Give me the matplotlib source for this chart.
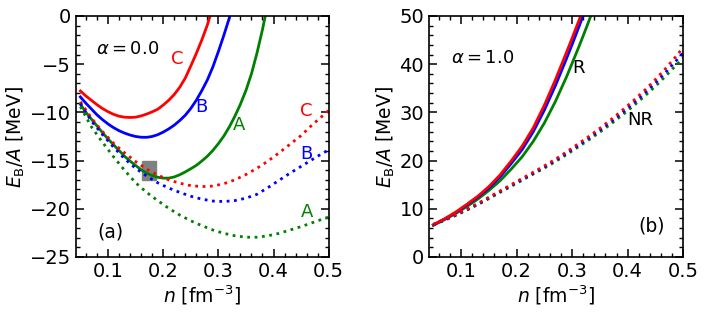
import matplotlib
matplotlib.use("Agg")
import matplotlib.pyplot as plt
from matplotlib.patches import Rectangle
from matplotlib.ticker import MultipleLocator

# ---- panel (a): alpha = 0.0 ----
n_dot = [0.05, 0.07, 0.09, 0.11, 0.13, 0.15, 0.17, 0.19, 0.21, 0.23, 0.25, 0.27,
         0.29, 0.31, 0.33, 0.35, 0.37, 0.39, 0.41, 0.43, 0.45, 0.47, 0.49, 0.50]

nC_sol = [0.05, 0.06, 0.07, 0.08, 0.09, 0.10, 0.11, 0.12, 0.13, 0.14, 0.15, 0.16, 0.17,
          0.18, 0.19, 0.20, 0.21, 0.22, 0.23, 0.24, 0.25, 0.26, 0.27, 0.28, 0.285]
eC_sol = [-7.78, -8.3, -8.75, -9.2, -9.6, -9.93, -10.2, -10.4, -10.5, -10.53, -10.5,
          -10.37, -10.18, -9.95, -9.68, -9.25, -8.75, -8.15, -7.4, -6.45, -5.2, -3.9,
          -2.5, -0.95, 0.0]

nB_sol = [0.05, 0.06, 0.07, 0.08, 0.09, 0.10, 0.11, 0.12, 0.13, 0.14, 0.15, 0.16, 0.17,
          0.18, 0.19, 0.20, 0.21, 0.22, 0.23, 0.24, 0.25, 0.26, 0.27, 0.28, 0.29, 0.30,
          0.31, 0.321]
eB_sol = [-8.4, -9.05, -9.65, -10.25, -10.75, -11.2, -11.58, -11.9, -12.15, -12.35, -12.5,
          -12.58, -12.59, -12.5, -12.32, -12.05, -11.72, -11.33, -10.85, -10.3, -9.6,
          -8.75, -7.75, -6.65, -5.3, -3.7, -2.0, 0.0]

nA_sol = [0.05, 0.06, 0.07, 0.08, 0.09, 0.10, 0.11, 0.12, 0.13, 0.14, 0.15, 0.16, 0.17,
          0.18, 0.19, 0.20, 0.21, 0.22, 0.23, 0.24, 0.25, 0.26, 0.27, 0.28, 0.29, 0.30,
          0.31, 0.32, 0.33, 0.34, 0.35, 0.36, 0.37, 0.38, 0.385]
eA_sol = [-9.15, -10.0, -10.7, -11.4, -12.1, -12.75, -13.35, -13.95, -14.55, -15.05, -15.5,
          -15.95, -16.3, -16.55, -16.73, -16.82, -16.82, -16.7, -16.47, -16.18, -15.85,
          -15.5, -15.05, -14.55, -13.95, -13.25, -12.45, -11.5, -10.4, -9.15, -7.73,
          -6.0, -3.85, -1.4, 0.0]

eC_dot = [-8.9, -10.6, -12.0, -13.2, -14.2, -15.1, -15.9, -16.5, -17.0, -17.35, -17.6, -17.7,
          -17.65, -17.4, -17.0, -16.45, -15.8, -15.05, -14.2, -13.3, -12.4, -11.3, -10.3, -9.8]
eB_dot = [-9.1, -10.9, -12.3, -13.6, -14.8, -15.8, -16.6, -17.3, -17.85, -18.3, -18.7, -19.0,
          -19.2, -19.25, -19.15, -18.9, -18.5, -17.8, -17.05, -16.3, -15.6, -14.9, -14.2, -13.9]
eA_dot = [-9.4, -11.5, -13.1, -14.6, -16.0, -17.3, -18.3, -19.15, -19.95, -20.65, -21.25,
          -21.75, -22.2, -22.55, -22.8, -22.95, -22.95, -22.8, -22.55, -22.2, -21.85, -21.45,
          -21.05, -20.85]

# ---- panel (b): alpha = 1.0 ----
nR = [0.05, 0.07, 0.09, 0.11, 0.13, 0.15, 0.17, 0.19, 0.21, 0.23, 0.25, 0.27, 0.29, 0.30,
      0.31, 0.32, 0.33, 0.34]
eR_C = [6.7, 7.9, 9.3, 10.9, 12.6, 14.6, 17.0, 19.9, 23.0, 26.8, 31.5, 36.8, 42.5, 45.4,
        48.4, 51.4, 54.4, 57.4]
eR_B = [6.65, 7.85, 9.2, 10.75, 12.4, 14.3, 16.6, 19.35, 22.3, 26.0, 30.5, 35.6, 41.2, 44.1,
        47.1, 50.1, 53.1, 56.1]
eR_A = [6.6, 7.75, 9.0, 10.45, 12.0, 13.8, 15.8, 18.2, 20.8, 24.0, 27.8, 32.3, 37.4, 40.2,
        43.0, 45.9, 48.9, 52.0]

eNR_C = [6.8, 7.8, 8.8, 9.9, 11.1, 12.4, 13.7, 15.0, 16.3, 17.6, 18.9, 20.3, 21.8, 23.4,
         25.0, 26.7, 28.5, 30.4, 32.4, 34.5, 36.8, 39.3, 42.0, 43.5]
eNR_B = [6.7, 7.7, 8.7, 9.8, 10.97, 12.25, 13.55, 14.82, 16.1, 17.4, 18.67, 20.05, 21.52,
         23.07, 24.65, 26.3, 28.05, 29.9, 31.85, 33.9, 36.1, 38.5, 41.05, 42.4]
eNR_A = [6.6, 7.6, 8.6, 9.7, 10.85, 12.1, 13.4, 14.65, 15.9, 17.2, 18.45, 19.8, 21.25,
         22.75, 24.3, 25.9, 27.6, 29.4, 31.3, 33.3, 35.4, 37.7, 40.1, 41.3]

fs_tick = 14
fs_lab = 13.5
fs_txt = 13
fig = plt.figure(figsize=(7.06, 3.13), dpi=100)
ax1 = fig.add_axes([0.1076, 0.179, 0.358, 0.770])
ax2 = fig.add_axes([0.6076, 0.179, 0.360, 0.770])

lw = 2
ax1.plot(nC_sol, eC_sol, color="red", lw=lw)
ax1.plot(nB_sol, eB_sol, color="blue", lw=lw)
ax1.plot(nA_sol, eA_sol, color="green", lw=lw)
ax1.plot(n_dot, eC_dot, color="red", lw=lw, ls=":")
ax1.plot(n_dot, eB_dot, color="blue", lw=lw, ls=":")
ax1.plot(n_dot, eA_dot, color="green", lw=lw, ls=":")
ax1.add_patch(Rectangle((0.161, -17.0), 0.026, 2.0, color="gray", zorder=1))

ax1.text(0.225, -4.5, "C", color="red", fontsize=fs_txt, ha="center", va="center")
ax1.text(0.27, -9.4, "B", color="blue", fontsize=fs_txt, ha="center", va="center")
ax1.text(0.337, -11.3, "A", color="green", fontsize=fs_txt, ha="center", va="center")
ax1.text(0.46, -9.9, "C", color="red", fontsize=fs_txt, ha="center", va="center")
ax1.text(0.46, -14.3, "B", color="blue", fontsize=fs_txt, ha="center", va="center")
ax1.text(0.46, -20.3, "A", color="green", fontsize=fs_txt, ha="center", va="center")
ax1.text(0.079, -3.4, r"$\alpha = 0.0$", fontsize=fs_txt, va="center")
ax1.text(0.104, -22.4, "(a)", fontsize=fs_txt + 0.5, ha="center", va="center")

ax2.plot(nR, eR_A, color="green", lw=lw)
ax2.plot(nR, eR_B, color="blue", lw=lw)
ax2.plot(nR, eR_C, color="red", lw=lw)
ax2.plot(n_dot, eNR_A, color="green", lw=lw, ls=":")
ax2.plot(n_dot, eNR_B, color="blue", lw=lw, ls=":")
ax2.plot(n_dot, eNR_C, color="red", lw=lw, ls=":")
ax2.text(0.312, 39.2, "R", fontsize=fs_txt, ha="center", va="center")
ax2.text(0.423, 28.4, "NR", fontsize=fs_txt, ha="center", va="center")
ax2.text(0.082, 41.3, r"$\alpha = 1.0$", fontsize=fs_txt, va="center")
ax2.text(0.444, 6.4, "(b)", fontsize=fs_txt + 0.5, ha="center", va="center")

ax1.set_ylim(-25, 0)
ax1.yaxis.set_major_locator(MultipleLocator(5))
ax1.yaxis.set_minor_locator(MultipleLocator(1))
ax2.set_ylim(0, 50)
ax2.yaxis.set_major_locator(MultipleLocator(10))
ax2.yaxis.set_minor_locator(MultipleLocator(2))

for ax in (ax1, ax2):
    ax.set_xlim(0.042, 0.5)
    ax.xaxis.set_major_locator(MultipleLocator(0.1))
    ax.xaxis.set_minor_locator(MultipleLocator(0.02))
    ax.tick_params(which="both", direction="in", top=True, right=True, labelsize=fs_tick)
    ax.tick_params(which="major", length=6, width=1.1)
    ax.tick_params(which="minor", length=3, width=1.0)
    for s in ax.spines.values():
        s.set_linewidth(1.2)
    ax.set_xlabel(r"$n$ [fm$^{-3}$]", fontsize=fs_lab, labelpad=2)
    ax.set_ylabel(r"$E_\mathrm{B}/A$ [MeV]", fontsize=fs_lab, labelpad=2)

fig.savefig("out.png", dpi=100)
